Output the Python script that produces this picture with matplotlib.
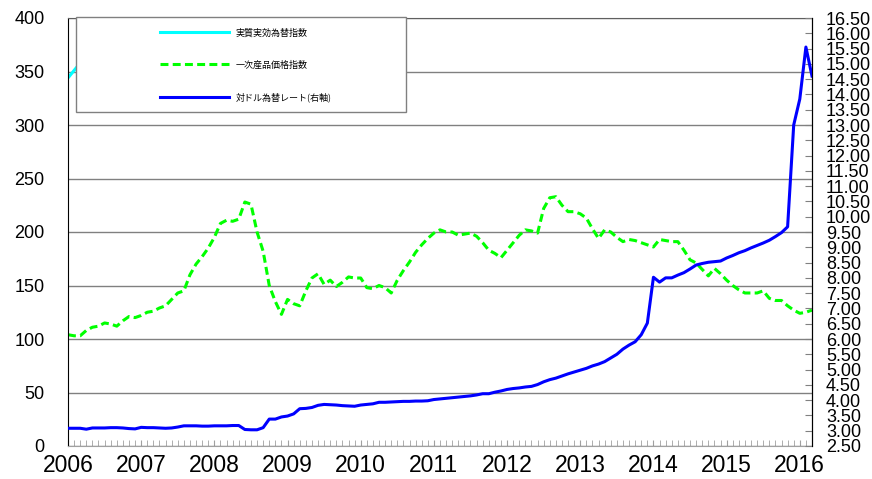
import numpy as np
import matplotlib
matplotlib.use("Agg")
import matplotlib.pyplot as plt
from matplotlib.patches import Rectangle
from matplotlib.lines import Line2D

# 月次データ 2006/01 - 2016/03
years = ["2006", "2007", "2008", "2009", "2010", "2011",
         "2012", "2013", "2014", "2015", "2016"]

# 実質実効為替指数 (見えているのは冒頭のみ)
reer = [344, 351, 358, 366, 372, 379]

# 一次産品価格指数
commodity = [
    104, 103, 103, 108, 111, 112, 115, 114, 112, 117, 121, 120,
    122, 125, 126, 129, 131, 137, 143, 145, 160, 170, 177, 185,
    195, 208, 211, 210, 212, 228, 226, 200, 182, 150, 135, 123,
    137, 133, 131, 145, 157, 161, 151, 155, 149, 153, 158, 157,
    157, 148, 147, 150, 148, 143, 155, 164, 172, 181, 188, 194,
    199, 202, 200, 200, 197, 198, 199, 196, 190, 183, 180, 176,
    183, 190, 197, 202, 201, 199, 222, 232, 233, 225, 219, 219,
    217, 213, 203, 194, 202, 200, 195, 191, 193, 192, 190, 188,
    186, 193, 192, 191, 191, 183, 174, 171, 165, 159, 166, 161,
    155, 150, 146, 143, 143, 143, 145, 138, 136, 136, 131, 127,
    124, 125, 127,
]

# 対ドル為替レート (右軸)
usd_rate = [
    3.08, 3.08, 3.08, 3.05, 3.09, 3.09, 3.09, 3.10, 3.10, 3.09, 3.07, 3.06,
    3.11, 3.10, 3.10, 3.09, 3.08, 3.09, 3.12, 3.16, 3.16, 3.16, 3.15, 3.15,
    3.16, 3.16, 3.16, 3.17, 3.17, 3.04, 3.03, 3.03, 3.10, 3.38, 3.38, 3.45,
    3.48, 3.55, 3.72, 3.73, 3.76, 3.83, 3.86, 3.85, 3.84, 3.82, 3.81, 3.80,
    3.84, 3.86, 3.88, 3.93, 3.93, 3.94, 3.95, 3.96, 3.96, 3.97, 3.97, 3.98,
    4.02, 4.04, 4.06, 4.08, 4.10, 4.12, 4.14, 4.17, 4.21, 4.21, 4.26, 4.30,
    4.35, 4.38, 4.40, 4.43, 4.45, 4.51, 4.60, 4.67, 4.72, 4.79, 4.86, 4.92,
    4.98, 5.04, 5.12, 5.18, 5.26, 5.38, 5.50, 5.67, 5.80, 5.91, 6.14, 6.52,
    8.02, 7.86, 8.00, 8.00, 8.09, 8.17, 8.29, 8.42, 8.47, 8.51, 8.53, 8.55,
    8.65, 8.73, 8.82, 8.89, 8.98, 9.06, 9.14, 9.23, 9.35, 9.48, 9.67, 13.00,
    13.85, 15.55, 14.60,
]

labels = ["実質実効為替指数", "一次産品価格指数", "対ドル為替レート(右軸)"]

months = np.arange(len(commodity))

fig = plt.figure(figsize=(8.72, 4.79), dpi=100)
ax = fig.add_axes([68 / 872, 33 / 479, 744 / 872, 428 / 479])
ax2 = ax.twinx()

# 左軸
ax.plot(np.arange(len(reer)), reer, color="#00FFFF", lw=2.2)
ax.plot(months, commodity, color="#00FF00", lw=2.2, dashes=(2.6, 1.4))
ax.set_ylim(0, 400)
ax.set_yticks(np.arange(0, 401, 50))
ax.set_xlim(0, len(commodity) - 1)
ax.set_xticks(np.arange(0, len(commodity), 12))
ax.set_xticklabels(years, family=["Liberation Sans Narrow", "Liberation Sans"],
                   fontsize=16.5)
ax.set_xticks(months, minor=True)
ax.grid(axis="y", color="#808080", lw=1.0)
ax.set_axisbelow(True)
ax.tick_params(axis="y", length=0, pad=17, labelsize=13)
ax.tick_params(axis="x", which="both", direction="in", length=4,
               color="#a0a0a0", pad=6)
for lab in ax.get_yticklabels():
    lab.set_family("Liberation Sans")
ax.spines["left"].set_color("black")
ax.spines["top"].set_color("#606060")
ax.spines["bottom"].set_color("#a0a0a0")

# 右軸
ax2.plot(months, usd_rate, color="#0000FF", lw=2.2)
ax2.set_ylim(2.5, 16.5)
ax2.set_yticks(np.arange(2.5, 16.51, 0.5))
ax2.set_yticklabels(["%.2f" % v for v in np.arange(2.5, 16.51, 0.5)],
                    family="Liberation Sans", fontsize=13)
ax2.tick_params(axis="y", direction="in", length=5, color="#808080", pad=10)
ax2.spines["right"].set_color("black")
ax2.spines["top"].set_visible(False)
ax2.spines["left"].set_visible(False)
ax2.spines["bottom"].set_visible(False)

# 凡例
box = Rectangle((76 / 872, 1 - 112 / 479), 330 / 872, 95 / 479,
                transform=fig.transFigure, facecolor="white",
                edgecolor="#808080", lw=1.0, zorder=4, clip_on=False)
ax2.add_patch(box)
handles = [
    Line2D([], [], color="#00FFFF", lw=2.2),
    Line2D([], [], color="#00FF00", lw=2.2, dashes=(2.6, 1.4)),
    Line2D([], [], color="#0000FF", lw=2.2),
]
leg = ax2.legend(handles, labels, loc="upper left",
                 bbox_to_anchor=(160 / 872, 1 - 28 / 479),
                 bbox_transform=fig.transFigure, frameon=False,
                 prop={"family": ["Noto Sans CJK JP", "DejaVu Sans"], "size": 6.5},
                 handlelength=7.6, handletextpad=0.8, labelspacing=2.55,
                 borderpad=0, borderaxespad=0)
leg.set_zorder(5)

fig.savefig("out.png", dpi=100)
